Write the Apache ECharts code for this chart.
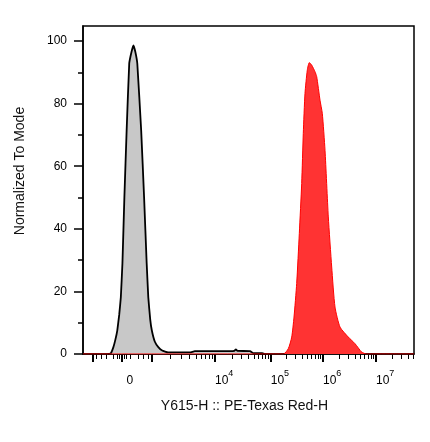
<!DOCTYPE html>
<html>
<head>
<meta charset="utf-8">
<script src="https://cdn.jsdelivr.net/npm/echarts@6/dist/echarts.min.js"></script>
<style>html,body{margin:0;padding:0;background:#fff}#c{width:430px;height:442px}</style>
</head>
<body>
<div id="c"></div>
<script>
// Histogram data in display channels (0..1024 across the x axis), normalized to mode
const grayChannels = [77, 86, 94, 100, 106, 112, 117, 122, 128, 135, 143, 150, 156, 162, 168, 180, 189, 197, 202, 208, 213, 222, 233, 245, 263, 331, 346, 455, 468, 473, 478, 517, 526, 554, 563];
const grayValues   = [0, 0.2, 2.2, 4.5, 7.5, 12.5, 18.1, 29, 50, 71.4, 92.8, 96.5, 98.6, 96.5, 92.8, 71.4, 50.1, 29, 18.1, 11, 7.5, 4, 2.2, 1.1, 0.5, 0.5, 0.9, 0.9, 1.0, 1.5, 1.0, 0.9, 0.3, 0.3, 0];

const redChannels = [0, 619.7, 635.1, 645.7, 652.8, 661.1, 669.2, 676.6, 681.5, 686.8, 693.9, 700.1, 707.5, 717.7, 723.0, 733.2, 740.3, 748.7, 758.9, 769.4, 779.6, 795.1, 820.8, 841.5, 862.2, 877.7, 1024];
const redValues   = [0, 0, 1.7, 5.4, 11.8, 22.5, 38.5, 54.5, 70.5, 83.3, 90.7, 93.1, 92.3, 90.2, 88.6, 81.1, 76.9, 65.1, 43.8, 27.8, 15, 8.6, 5.4, 3.3, 0.6, 0, 0];

// Biexponential display scale: anchor values and their display channels
const anchorValues   = [-1000, 0, 1000, 1e4, 1e5, 1e6, 1e7];
const anchorChannels = [30.9, 119, 213.5, 408.4, 580.7, 742.5, 906.4];

// Tick definitions (in data units)
const majorTickValues = [-1000, 0, 1000, 1e4, 1e5, 1e6, 1e7];
const labelValues = [0, 1e4, 1e5, 1e6, 1e7];
const labelTexts = ['0', '4', '5', '6', '7'];
const minorLinearTicks = [-800, -600, -400, -200, -100, -50, 50, 100, 200, 400, 600, 800];
const minorMultipliers = [2, 3, 4, 5, 6, 7, 8, 9];
const minorDecades = [1e3, 1e4, 1e5, 1e6, 1e7];

const yMajorTicks = [0, 20, 40, 60, 80, 100];
const yMinorTicks = [10, 30, 50, 70, 90];

const X_MIN = 0, X_MAX = 1024, Y_MAX = 104.8;

function toChannel(v) {
  const u = Math.asinh(v / 400);
  const ua = anchorValues.map(a => Math.asinh(a / 400));
  let i = 0;
  while (i < ua.length - 2 && u > ua[i + 1]) i++;
  const t = (u - ua[i]) / (ua[i + 1] - ua[i]);
  return anchorChannels[i] + t * (anchorChannels[i + 1] - anchorChannels[i]);
}

const majorCh = majorTickValues.map(toChannel);
const labelCh = labelValues.map(toChannel);
let minorCh = minorLinearTicks.map(toChannel);
minorDecades.forEach(d => minorMultipliers.forEach(m => {
  const c = toChannel(m * d);
  if (c < X_MAX) minorCh.push(c);
}));

const grayData = grayChannels.map((c, i) => [c, grayValues[i]]);
const redData = redChannels.map((c, i) => [c, redValues[i]]);

const FONT = 'Arial, "Liberation Sans", sans-serif';

const chart = echarts.init(document.getElementById('c'), null, {renderer: 'canvas'});
chart.setOption({
  animation: false,
  backgroundColor: '#fff',
  grid: {left: 83, right: 16, top: 26, bottom: 88, show: true, borderColor: '#000', borderWidth: 1.5, backgroundColor: 'transparent'},
  xAxis: [{
    type: 'value', min: X_MIN, max: X_MAX, position: 'bottom',
    name: 'Y615-H :: PE-Texas Red-H', nameLocation: 'middle', nameGap: 45,
    nameTextStyle: {fontFamily: FONT, fontSize: 14, color: '#111', padding: [0, 8, 0, 0]},
    splitLine: {show: false},
    axisLine: {show: true, lineStyle: {color: '#000', width: 1.5}},
    axisTick: {show: true, customValues: majorCh, length: 8, lineStyle: {color: '#000', width: 2}},
    axisLabel: {
      customValues: labelCh, margin: 15, align: 'left', fontFamily: FONT, color: '#000',
      formatter: function (val) {
        let best = 0;
        labelCh.forEach((c, i) => { if (Math.abs(c - val) < Math.abs(labelCh[best] - val)) best = i; });
        if (labelValues[best] === 0) return '{z|0}';
        return '{n|10}{s|' + labelTexts[best] + '}';
      },
      rich: {
        z: {fontFamily: FONT, fontSize: 12, color: '#000', lineHeight: 18, verticalAlign: 'bottom', padding: [0, 0, 0, 5]},
        n: {fontFamily: FONT, fontSize: 12, color: '#000', lineHeight: 18, verticalAlign: 'bottom'},
        s: {fontFamily: FONT, fontSize: 9, color: '#000', lineHeight: 10, verticalAlign: 'top'}
      }
    }
  }, {
    type: 'value', min: X_MIN, max: X_MAX, position: 'bottom',
    splitLine: {show: false}, axisLine: {show: false},
    axisTick: {show: true, customValues: minorCh, length: 5, lineStyle: {color: '#000', width: 1}},
    axisLabel: {show: false}
  }],
  yAxis: [{
    type: 'value', min: 0, max: Y_MAX, position: 'left',
    name: 'Normalized To Mode', nameLocation: 'middle', nameGap: 56,
    nameTextStyle: {fontFamily: FONT, fontSize: 14, color: '#111', padding: [0, 0, 0, 38]},
    splitLine: {show: false},
    axisLine: {show: true, lineStyle: {color: '#000', width: 1.5}},
    axisTick: {show: true, customValues: yMajorTicks, length: 9, lineStyle: {color: '#000', width: 1.5}},
    axisLabel: {customValues: yMajorTicks, margin: 16, fontFamily: FONT, fontSize: 12, color: '#000'}
  }, {
    type: 'value', min: 0, max: Y_MAX, position: 'left',
    splitLine: {show: false}, axisLine: {show: false},
    axisTick: {show: true, customValues: yMinorTicks, length: 5, lineStyle: {color: '#000', width: 1.5}},
    axisLabel: {show: false}
  }],
  series: [{
    type: 'line', xAxisIndex: 0, yAxisIndex: 0, data: grayData,
    smooth: 0.1, showSymbol: false,
    lineStyle: {color: '#000', width: 1.8},
    areaStyle: {color: '#c8c8c8', opacity: 1}
  }, {
    type: 'line', xAxisIndex: 0, yAxisIndex: 0, data: redData,
    smooth: 0.2, showSymbol: false,
    lineStyle: {color: '#ff0000', width: 1},
    areaStyle: {color: '#ff3333', opacity: 1}
  }]
});
</script>
</body>
</html>
